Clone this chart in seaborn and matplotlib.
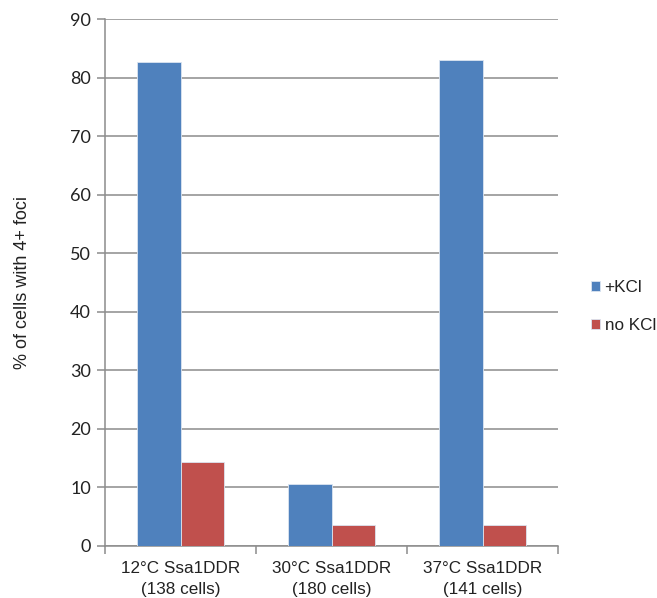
import matplotlib
matplotlib.use("Agg")
import matplotlib.pyplot as plt
import seaborn as sns
import pandas as pd

# Data
categories = ["12°C Ssa1DDR\n(138 cells)", "30°C Ssa1DDR\n(180 cells)", "37°C Ssa1DDR\n(141 cells)"]
kcl_plus = [82.7, 10.6, 83.0]
kcl_none = [14.3, 3.6, 3.6]
series = ["+KCl", "no KCl"]
y_ticks = [0, 10, 20, 30, 40, 50, 60, 70, 80, 90]

df = pd.DataFrame({
    "category": categories * 2,
    "value": kcl_plus + kcl_none,
    "series": [series[0]] * 3 + [series[1]] * 3,
})

sns.set_style("white")
plt.rcParams["font.family"] = ["Liberation Sans", "DejaVu Sans"]

fig = plt.figure(figsize=(6.57, 5.98), dpi=100)
ax = fig.add_axes([105 / 657, 52 / 598, 453 / 657, 527 / 598])

palette = {"+KCl": "#4F81BD", "no KCl": "#C0504D"}
sns.barplot(data=df, x="category", y="value", hue="series", order=categories,
            hue_order=series, palette=palette, width=0.57, gap=0,
            saturation=1, ax=ax, edgecolor="#dbe5f1", linewidth=0.6, zorder=3)

ax.set_xlim(-0.5, 2.5)
ax.set_ylim(0, 90)
ax.set_yticks(y_ticks)
ax.yaxis.grid(True, color="#8c8c8c", linewidth=1.1, zorder=0)
ax.set_axisbelow(True)

for lbl in ax.get_yticklabels():
    lbl.set_fontfamily(["Lato", "DejaVu Sans"])
    lbl.set_fontsize(13)
ax.tick_params(axis="y", which="major", length=6, width=1.1, color="#8c8c8c",
               direction="out", left=True, pad=4, labelcolor="#222222")

ax.set_xticks(range(3))
ax.set_xticklabels(categories, fontsize=12.3, color="#222222", linespacing=1.45)
ax.tick_params(axis="x", which="major", length=0, pad=11)
ax.set_xticks([-0.5, 0.5, 1.5, 2.5], minor=True)
ax.tick_params(axis="x", which="minor", length=6, width=1.1, color="#8c8c8c",
               direction="out", bottom=True)

for side in ["top", "right"]:
    ax.spines[side].set_visible(False)
for side in ["left", "bottom"]:
    ax.spines[side].set_color("#8c8c8c")
    ax.spines[side].set_linewidth(1.1)

ax.set_xlabel("")
ax.set_ylabel("% of cells with 4+ foci", fontsize=13, color="#222222", labelpad=28)

handles, labels = ax.get_legend_handles_labels()
ax.legend(handles, labels, loc="center left", bbox_to_anchor=(0.876, 0.487),
          bbox_transform=fig.transFigure, frameon=False, fontsize=12.3,
          handlelength=0.55, handleheight=0.55, handletextpad=0.25,
          labelspacing=1.35, labelcolor="#222222")

fig.savefig("out.png", dpi=100, facecolor="white")
